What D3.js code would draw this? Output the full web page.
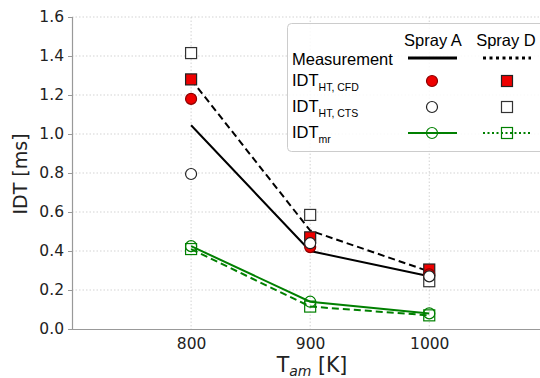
<!DOCTYPE html>
<html>
<head>
<meta charset="utf-8">
<script src="https://cdn.jsdelivr.net/npm/d3@7"></script>
<style>
  body { margin: 0; background: #fff; }
  svg { font-family: "DejaVu Sans", sans-serif; display: block; }
  .legend text { font-family: "Liberation Sans", Arial, sans-serif; }
</style>
</head>
<body>
<svg id="chart" width="540" height="378"></svg>
<script>
// ambient temperatures [K]
const temps = [800, 900, 1000];

// measured IDT [ms]
const measA = [1.045, 0.40, 0.27];
const measD = [1.28, 0.505, 0.295];
// high-temperature IDT from CFD
const cfdA = [1.18, 0.42, 0.28];
const cfdD = [1.28, 0.47, 0.305];
// high-temperature IDT from CTS
const ctsA = [0.795, 0.44, 0.27];
const ctsD = [1.415, 0.585, 0.245];
// IDT_mr
const mrA = [0.425, 0.14, 0.08];
const mrD = [0.41, 0.115, 0.07];

const yTicks = [0, 0.2, 0.4, 0.6, 0.8, 1.0, 1.2, 1.4, 1.6];

const svg = d3.select('#chart');
const x = d3.scaleLinear().domain([700, 1093]).range([72, 540]);
const y = d3.scaleLinear().domain([0, 1.6]).range([329, 17]);
const GREEN = '#008000';

// grid
const grid = svg.append('g').attr('class', 'grid');
grid.selectAll('line.gy').data(yTicks.slice(1)).enter().append('line')
  .attr('x1', 72).attr('x2', 540)
  .attr('y1', d => y(d)).attr('y2', d => y(d))
  .attr('stroke', '#c8c8c8').attr('stroke-width', 0.8).attr('stroke-dasharray', '1.5,2');
grid.selectAll('line.gx').data(temps).enter().append('line')
  .attr('x1', d => x(d)).attr('x2', d => x(d))
  .attr('y1', 17).attr('y2', 329)
  .attr('stroke', '#c8c8c8').attr('stroke-width', 0.8).attr('stroke-dasharray', '1.5,2');

// axes
const yAxis = svg.append('g').attr('transform', 'translate(72,0)')
  .call(d3.axisLeft(y).tickValues(yTicks).tickFormat(d3.format('.1f')).tickSize(4).tickPadding(4));
const xAxis = svg.append('g').attr('transform', 'translate(0,329)')
  .call(d3.axisBottom(x).tickValues(temps).tickFormat(d3.format('d')).tickSize(0).tickPadding(9));
[yAxis, xAxis].forEach(a => {
  a.select('.domain').attr('stroke', '#999').attr('stroke-width', 1.2);
  a.selectAll('.tick line').attr('stroke', '#999');
  a.selectAll('text').attr('font-size', 15.5).attr('fill', '#222')
    .attr('font-family', '"DejaVu Sans", sans-serif');
});
xAxis.select('.domain').attr('d', 'M72,0.5H540');

// axis labels
svg.append('text').attr('transform', 'translate(27,174) rotate(-90)')
  .attr('text-anchor', 'middle').attr('font-size', 19).attr('fill', '#222')
  .text('IDT [ms]');
const xl = svg.append('text').attr('x', 312).attr('y', 372)
  .attr('text-anchor', 'middle').attr('font-size', 20.5).attr('fill', '#222');
xl.append('tspan').text('T');
xl.append('tspan').attr('font-style', 'italic').attr('font-size', 14).attr('dy', 4).text('am');
xl.append('tspan').attr('dy', -4).text(' [K]');

// lines
const line = d3.line().x((d, i) => x(temps[i])).y(d => y(d));
function drawLine(vals, color, dash) {
  svg.append('path').datum(vals).attr('d', line)
    .attr('fill', 'none').attr('stroke', color).attr('stroke-width', 2)
    .attr('stroke-dasharray', dash || null);
}
drawLine(measA, '#000');
drawLine(measD, '#000', '7,4');
drawLine(mrA, GREEN);
drawLine(mrD, GREEN, '7,4');

// markers
function circles(vals, fill, stroke) {
  svg.append('g').selectAll('circle').data(vals).enter().append('circle')
    .attr('cx', (d, i) => x(temps[i])).attr('cy', d => y(d)).attr('r', 5.5)
    .attr('fill', fill).attr('stroke', stroke).attr('stroke-width', 1.2);
}
function squares(vals, fill, stroke) {
  svg.append('g').selectAll('rect').data(vals).enter().append('rect')
    .attr('x', (d, i) => x(temps[i]) - 5.5).attr('y', d => y(d) - 5.5)
    .attr('width', 11).attr('height', 11)
    .attr('fill', fill).attr('stroke', stroke).attr('stroke-width', 1.2);
}
squares(mrD, 'none', GREEN);
circles(mrA, 'none', GREEN);
squares(cfdD, '#ee0000', '#222');
squares(ctsD, '#fff', '#333');
circles(cfdA, '#ee0000', '#8b0000');
circles(ctsA, '#fff', '#222');

// legend
const lg = svg.append('g').attr('class', 'legend');
lg.append('rect').attr('x', 287.5).attr('y', 23.5).attr('width', 260).attr('height', 128)
  .attr('rx', 4).attr('fill', 'rgba(255,255,255,0.85)').attr('stroke', '#ccc');
lg.append('text').attr('x', 433).attr('y', 46).attr('text-anchor', 'middle')
  .attr('font-size', 16.5).text('Spray A');
lg.append('text').attr('x', 506).attr('y', 46).attr('text-anchor', 'middle')
  .attr('font-size', 16.5).text('Spray D');
lg.append('text').attr('x', 292).attr('y', 65).attr('font-size', 16.5).text('Measurement');
lg.append('line').attr('x1', 408).attr('x2', 457).attr('y1', 58).attr('y2', 58)
  .attr('stroke', '#000').attr('stroke-width', 3);
lg.append('line').attr('x1', 483).attr('x2', 531).attr('y1', 58).attr('y2', 58)
  .attr('stroke', '#000').attr('stroke-width', 3).attr('stroke-dasharray', '3,3.5');

const rows = [
  { sub: 'HT, CFD', y: 81 },
  { sub: 'HT, CTS', y: 107 },
  { sub: 'mr', y: 133 }
];
rows.forEach(r => {
  const t = lg.append('text').attr('x', 292).attr('y', r.y + 5).attr('font-size', 16.5);
  t.append('tspan').text('IDT');
  t.append('tspan').attr('font-size', 10.5).attr('dy', 5).text(r.sub);
});
// row samples
lg.append('circle').attr('cx', 432).attr('cy', 81).attr('r', 5.5)
  .attr('fill', '#ee0000').attr('stroke', '#8b0000').attr('stroke-width', 1.2);
lg.append('rect').attr('x', 501.5).attr('y', 75.5).attr('width', 11).attr('height', 11)
  .attr('fill', '#ee0000').attr('stroke', '#222').attr('stroke-width', 1.2);
lg.append('circle').attr('cx', 432).attr('cy', 107).attr('r', 5.5)
  .attr('fill', '#fff').attr('stroke', '#222').attr('stroke-width', 1.2);
lg.append('rect').attr('x', 501.5).attr('y', 101.5).attr('width', 11).attr('height', 11)
  .attr('fill', '#fff').attr('stroke', '#333').attr('stroke-width', 1.2);
lg.append('line').attr('x1', 408).attr('x2', 457).attr('y1', 133).attr('y2', 133)
  .attr('stroke', GREEN).attr('stroke-width', 2);
lg.append('circle').attr('cx', 432).attr('cy', 133).attr('r', 5.5)
  .attr('fill', 'none').attr('stroke', GREEN).attr('stroke-width', 1.2);
lg.append('line').attr('x1', 483).attr('x2', 531).attr('y1', 133).attr('y2', 133)
  .attr('stroke', GREEN).attr('stroke-width', 2).attr('stroke-dasharray', '2,2.5');
lg.append('rect').attr('x', 501.5).attr('y', 127.5).attr('width', 11).attr('height', 11)
  .attr('fill', 'none').attr('stroke', GREEN).attr('stroke-width', 1.2);
</script>
</body>
</html>
